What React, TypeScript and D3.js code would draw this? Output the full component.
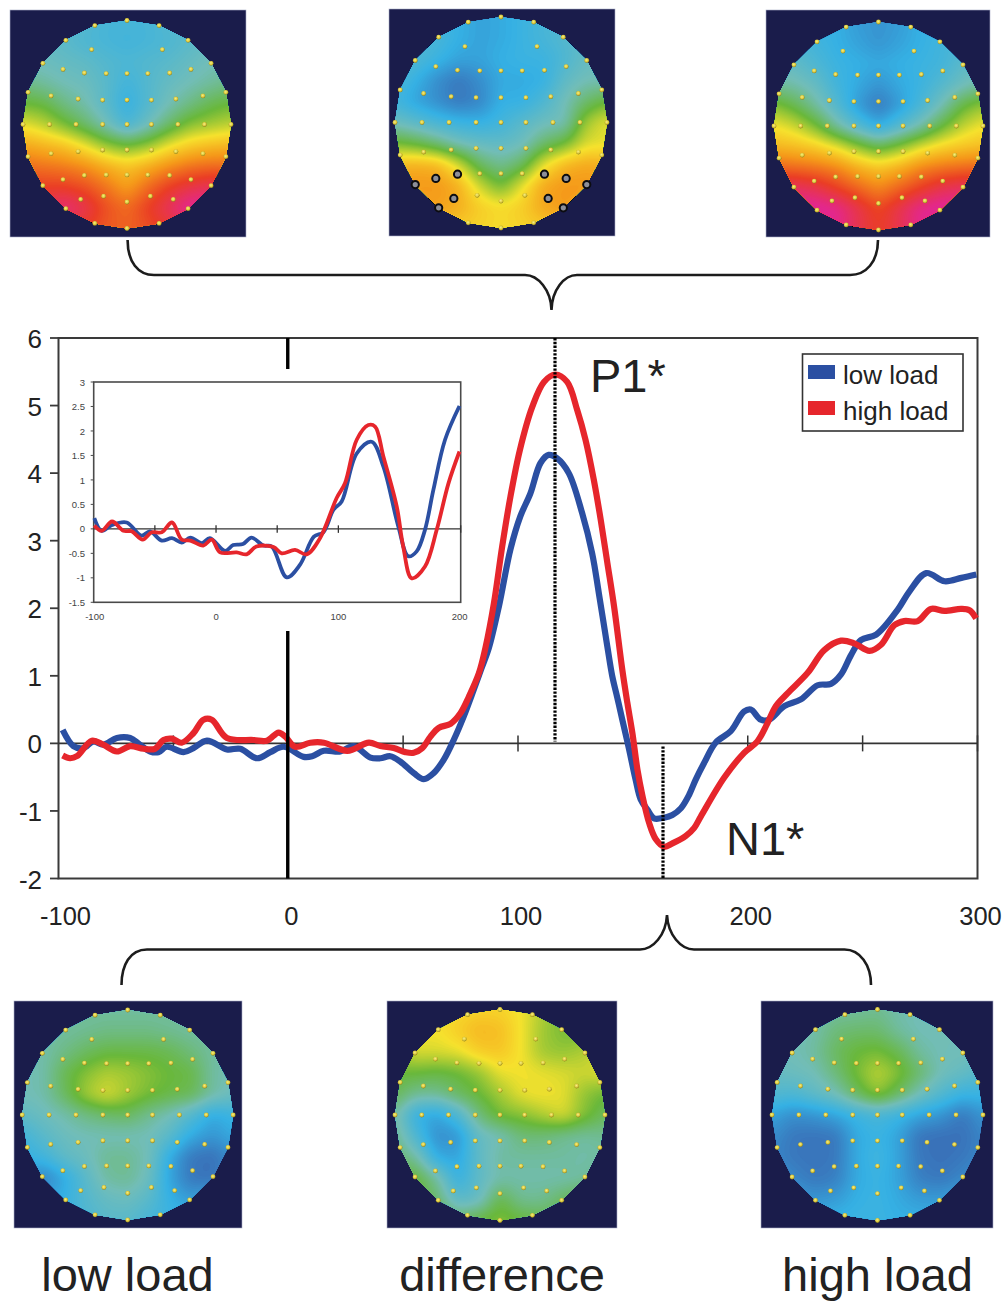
import React from "react";
import * as d3 from "d3";

// ---------- waveform data (ms, µV) ----------
const mainLowMs = [-98.2,-93.5,-89.2,-84.8,-80.5,-74.6,-68.8,-64.5,-60.1,-56.5,-52.9,-45.6,-41.3,-35.4,-26.7,-20.9,-13.6,-7.8,-2,6.7,10.4,15.5,22.7,28.5,35.8,40.1,44.4,48.8,54.6,59,63.3,67.7,72,76.4,80.7,84,87.3,91.7,96.7,101,105.4,109.8,113.4,117,122.1,127.9,132.3,135.2,138.9,141,143.2,145.4,148.3,151.2,153.4,156.3,159.2,163.6,167.2,170.9,174.5,177.3,181,186,192.6,198.4,201.3,205.7,209.3,215.9,223.1,230.4,236.2,240.6,245,249.3,255.9,265.3,270.4,277.7,285.7,293,299.5];
const mainLowUv = [0.2,-0.04,-0.07,0.03,-0.02,0.08,0.08,-0.02,-0.12,-0.13,-0.05,-0.13,-0.07,0.04,-0.09,-0.08,-0.22,-0.13,-0.05,-0.2,-0.19,-0.11,-0.12,-0.04,-0.21,-0.22,-0.19,-0.27,-0.44,-0.53,-0.44,-0.24,0.05,0.4,0.79,1.1,1.41,2.03,2.87,3.36,3.7,4.15,4.27,4.22,4.0,3.41,2.81,2.22,1.43,1.0,0.68,0.35,-0.08,-0.54,-0.83,-0.98,-1.11,-1.1,-1.06,-0.96,-0.76,-0.54,-0.29,0.01,0.18,0.47,0.5,0.35,0.35,0.55,0.65,0.86,0.88,1.02,1.31,1.53,1.61,1.98,2.25,2.52,2.4,2.45,2.5];
const mainHighMs = [-98.2,-95,-92,-85.5,-80.5,-74.6,-68.8,-63,-58,-54.3,-50.7,-46.4,-41.3,-36.9,-33.3,-26.7,-15.1,-9.3,-4.2,-1.3,3,9.6,15.5,25.7,35.1,40.1,45.9,51,54.6,58.3,61.9,65.5,70.6,75,78.6,83,85.8,89.5,93.1,96.7,100.8,106.2,111.3,116.3,121.4,125.8,129.4,133,136,138.9,141.8,145.4,147.6,149.8,152,154.2,157.1,160,163.6,167.2,173,176.7,179.6,189.7,198.4,204.2,208.6,212.2,217.3,226,233.3,240.6,246.4,253,258,263.8,268.1,274,279.7,285.6,292.9,296.5,299.4];
const mainHighUv = [-0.18,-0.22,-0.19,0.04,-0.02,-0.12,-0.04,-0.08,-0.08,0.05,0.07,0.01,0.15,0.35,0.35,0.08,0.05,0.04,0.16,0.1,-0.05,0.01,0.01,-0.11,0.01,-0.04,-0.07,-0.13,-0.14,-0.07,0.1,0.23,0.29,0.45,0.69,1.04,1.41,2.07,2.91,3.65,4.34,4.98,5.35,5.46,5.35,4.93,4.49,3.9,3.31,2.67,2.03,1.09,0.6,0.15,-0.39,-0.78,-1.18,-1.42,-1.53,-1.48,-1.37,-1.25,-1.08,-0.51,-0.14,0.03,0.3,0.55,0.74,1.04,1.38,1.52,1.48,1.37,1.46,1.75,1.81,1.81,1.99,1.96,1.99,1.97,1.85];

const insetLowMs = [-99.5,-93.5,-85,-73,-61,-54,-44.4,-36,-28,-21,-11.7,-5,7.4,14,22,29,38.7,45.5,57.8,68.7,80,87.7,96,102.7,115,127.2,136.8,149,157.2,164,170.8,177.7,187.2,199];
const insetLowUv = [0.22,-0.04,0.08,0.13,-0.14,-0.05,-0.24,-0.19,-0.28,-0.18,-0.29,-0.19,-0.45,-0.33,-0.31,-0.18,-0.34,-0.36,-0.99,-0.73,-0.16,-0.07,0.39,0.56,1.54,1.78,1.27,0.05,-0.56,-0.46,-0.02,0.8,1.82,2.51];
const insetHighMs = [-99.5,-93.5,-85,-75.7,-69,-60,-52.6,-44.4,-36,-28,-21,-10.4,-3.5,3.3,16.9,25,33,47,53.7,64.6,74,85,98.6,105.4,115,124.5,130,136.8,147.7,153,160,170.8,180.4,190,199];
const insetHighUv = [0.07,-0.04,0.15,-0.04,-0.05,-0.22,-0.07,-0.07,0.13,-0.22,-0.24,-0.34,-0.22,-0.48,-0.48,-0.52,-0.36,-0.37,-0.5,-0.43,-0.52,-0.19,0.63,0.93,1.82,2.12,2.09,1.48,0.46,-0.36,-1.01,-0.77,-0.02,0.93,1.58];

// ---------- axes ----------
const mainYTicks = [-2,-1,0,1,2,3,4,5,6];
const mainXLabels = [-100,0,100,200,300];
const mainXMinor = [-50,0,50,100,150,200,250,300];
const insetYTicks = [-1.5,-1,-0.5,0,0.5,1,1.5,2,2.5,3];
const insetXLabels = [-100,0,100,200];
const insetXMinor = [-50,0,50,100,150,200];
const seriesNames = ["low load","high load"];
const captions = ["low load","difference","high load"];

// ---------- scalp maps: potential class on an 11 x 11 raster, top row first ----------
const topoLowP1 = [
[1.8,1.8,1.7,1.5,1.3,1.3,1.3,1.5,1.7,1.8,1.8],
[1.8,1.8,1.6,1.4,1.3,1.2,1.3,1.4,1.6,1.8,1.8],
[1.9,1.9,1.8,1.7,1.5,1.4,1.5,1.6,1.8,2,2],
[2.4,2.2,2,1.9,1.6,1.2,1.5,1.8,2,2.2,2.4],
[3,2.9,2.4,2.1,1.6,1,1.5,2,2.4,2.8,3],
[3.9,3.6,3.1,2.6,2,1.3,1.9,2.6,3.2,3.4,3.6],
[4.8,4.6,4.4,3.9,3.3,3,3.3,3.9,4.3,4.5,4.6],
[5.5,5.4,5.3,5.1,4.7,4.4,4.7,5.1,5.4,5.5,5.5],
[6,6,6,5.8,5.4,4.9,5.5,6,6.3,6.5,6.5],
[6.4,6.5,6.8,6.4,5.8,5.5,6,6.5,7.1,7.2,7],
[6.1,6.1,6.1,6,5.7,5.6,5.8,6.1,6.5,6.5,6.5],
];
const topoDiffP1 = [
[1.4,1.4,1.2,1,0.8,0.9,1.1,1.3,1.5,1.7,1.7],
[1.5,1.5,1.3,1,0.8,0.9,1.1,1.3,1.5,1.7,1.8],
[1.6,1.4,1.1,0.8,0.8,1,1.1,1.1,1.4,1.8,1.9],
[1.4,1,0.5,0.2,0.5,0.9,0.9,1,1.7,2,2],
[1.2,0.8,0.5,0.2,0.4,1,1,1.4,2,2.6,3],
[1.9,1.6,1.3,1.1,1,1.2,1.6,1.9,2,3.4,3.9],
[3.1,2.9,2.5,2,1.8,1.7,1.9,2.6,3,3.8,3.9],
[4.6,4.7,4.6,3.8,2.7,2.3,2.7,3.9,4.6,4.8,4.7],
[5,5,5,4.7,3.7,3,3.9,4.8,5,5,4.9],
[4.7,4.8,4.9,4.7,4.3,4.1,4.3,4.8,5,4.7,4.6],
[4.2,4.2,4.3,4.3,4.2,4.1,4.2,4.3,4.4,4.2,4.2],
];
const topoHighP1 = [
[1.3,1.2,1.1,1,0.7,0.6,0.7,1,1.1,1.2,1.3],
[1.6,1.4,1.2,1,0.8,0.6,0.8,1,1.2,1.4,1.6],
[1.9,1.7,1.4,1.1,1,0.9,1,1.1,1.2,1.6,1.9],
[2.2,2.1,1.8,1.2,0.9,0.6,0.9,1.1,1.5,1.9,2.2],
[3.2,2.8,2.2,1.5,0.7,0.2,0.7,1.3,2,2.9,3.3],
[4,3.7,3.1,2.2,1.5,0.9,1.5,2.1,2.9,3.6,4],
[4.6,4.5,4.3,3.9,3.3,2.8,3.2,3.8,4.2,4.4,4.5],
[5.6,5.5,5.4,5.2,4.7,4.4,4.7,5.2,5.4,5.5,5.6],
[6.6,6.6,6.4,6,5.6,5.2,5.6,6,6.4,6.6,6.6],
[7.2,7.2,7.2,7,6.4,5.9,6.4,7,7.2,7.2,7.2],
[7.2,7.2,7.2,7,6.4,6,6.4,7,7.2,7.2,7.2],
];
const topoLowN1 = [
[2.2,2.2,2.2,2.2,2.2,2.2,2.2,2.2,2.2,2.2,2.2],
[2.2,2.2,2.2,2.3,2.4,2.4,2.4,2.3,2.2,2.2,2.2],
[2.1,2.1,2.4,2.7,2.9,2.9,2.9,2.8,2.5,2.2,2.1],
[2,2.1,2.8,3.2,3.5,3.4,3.2,3,2.9,2.2,2],
[2,2.1,2.7,3.4,3.8,3.4,3.1,2.9,2.8,2.2,1.9],
[1.7,1.9,2.1,2.4,2.6,2.7,2.3,2,1.5,0.9,1.1],
[1.2,1.6,1.9,2,2,2,2,1.6,0.9,0.6,0.9],
[1,1.2,1.7,1.9,2.3,2.3,2,0.9,0.2,0.1,0.5],
[0.8,0.3,0.9,1.6,2.2,2.3,1.9,0.8,0.2,0.1,0.7],
[1,0.9,1,1.5,1.8,1.9,1.6,1,0.7,1,1],
[1.2,1.2,1.2,1.4,1.6,1.6,1.3,1.1,1.2,1.2,1.2],
];
const topoDiffN1 = [
[4,4,4,4.1,4.2,4.2,4,3.5,3.2,3,3],
[4,4,4,4.3,4.6,4.5,4,3.4,3.1,3,3.2],
[3.5,3.8,3.8,3.9,4.3,4.4,4,3.4,3.3,3.5,3.8],
[3,3,2.9,3,3.3,3.9,4,3.9,3.8,3.7,3.9],
[2.8,2.3,2.3,2.7,3,3.4,3.9,4,3.9,3.3,3],
[2.2,1,0.8,1.4,2.5,3.1,3.2,3.5,3.8,3.2,2.7],
[2.4,1.4,0.5,0.6,1.8,2,2.5,2.5,2.3,2.2,2.3],
[2.6,2.2,0.9,0.8,1.7,2.2,2.2,2.2,2.2,2.1,2.2],
[3,3,2.2,1,1.7,2.1,2.1,2.1,2.1,2.2,2.6],
[3.2,3.1,2.6,1.6,1.8,2.9,2.3,2.3,2.7,3,3.3],
[3.3,3.3,3,2.7,3,3.2,3,2.9,3,3.3,3.3],
];
const topoHighN1 = [
[2,2,2.1,2.2,2.2,2.3,2.1,2,2,2,2],
[2,2,2.1,2.5,2.6,2.6,2.2,2,2,2,2],
[2,2,2.2,2.7,3,3.1,2.8,2.2,2,2,2],
[1.8,1.9,2,2.5,3.1,3.6,3.2,2.6,2,1.8,1.5],
[1.5,1.4,1.7,2,2.7,3.3,2.7,2,1.5,1.1,1.1],
[0.8,0.5,0.6,0.8,1.1,1.3,1.1,0.8,0.6,0.2,0.6],
[0.5,0.2,0.15,0.2,0.9,1.1,0.8,0.15,0.1,0.1,0.4],
[0.4,0.2,0.15,0.2,0.9,1.2,0.8,0.2,0.1,0.2,0.4],
[0.8,0.4,0.2,0.3,0.9,1.1,0.8,0.3,0.2,0.4,0.7],
[1,0.8,0.6,0.7,1,1.1,0.9,0.7,0.7,0.9,1],
[1,1,1,1.1,1.1,1.1,1,1,1,1,1],
];
const potentialColors = ["#3a69b3","#35b1e4","#72bdb8","#69b83a","#f6e22d","#f5981a","#ea3e25","#e3278d"];

// electrode layout, unit-disc coordinates
const rimAngles = d3.range(0, 360, 18);
const electrodeRows: [number, number][][] = [
  [[-0.34,-0.72],[0.34,-0.72]],
  [[-0.615,-0.53],[-0.41,-0.495],[-0.2,-0.49],[0,-0.49],[0.2,-0.49],[0.41,-0.495],[0.615,-0.53]],
  [[-0.73,-0.275],[-0.47,-0.245],[-0.235,-0.235],[0,-0.235],[0.235,-0.235],[0.47,-0.245],[0.73,-0.275]],
  [[-0.745,0],[-0.49,0],[-0.235,0],[0,0],[0.235,0],[0.49,0],[0.745,0]],
  [[-0.73,0.28],[-0.47,0.26],[-0.235,0.245],[0,0.245],[0.235,0.245],[0.47,0.26],[0.73,0.28]],
  [[-0.615,0.53],[-0.41,0.49],[-0.2,0.485],[0,0.485],[0.2,0.485],[0.41,0.49],[0.615,0.53]],
  [[-0.445,0.72],[-0.225,0.69],[0,0.745],[0.225,0.69],[0.445,0.72]],
];
const roiElectrodes: [number, number][] = [
  [-0.809,0.588],[-0.615,0.53],[-0.41,0.49],[-0.445,0.72],[-0.588,0.809],
  [0.809,0.588],[0.615,0.53],[0.41,0.49],[0.445,0.72],[0.588,0.809],
];

type MapBox = { x0:number; y0:number; x1:number; y1:number; cx:number; cy:number; rx:number; ry:number };
const box = (x0:number,y0:number,x1:number,y1:number,cx:number,cy:number,rx:number,ry:number):MapBox => ({x0,y0,x1,y1,cx,cy,rx,ry});
const mapPanels = [
  { id:"a", grid:topoLowP1,  b:box(10,10,246,237,127,124.5,104,104), roi:false },
  { id:"b", grid:topoDiffP1, b:box(389,9,615,236,501,122.5,106,105.5), roi:true },
  { id:"c", grid:topoHighP1, b:box(766,10,990,237,878.5,126,104.5,104), roi:false },
  { id:"d", grid:topoLowN1,  b:box(14,1001,242,1228,127.7,1115,105.5,105), roi:false },
  { id:"e", grid:topoDiffN1, b:box(387,1001,617,1228,500,1115,105,105.5), roi:false },
  { id:"f", grid:topoHighN1, b:box(761,1001,993,1228,877.5,1115,105.5,105.5), roi:false },
];

const potentialScale = d3.scaleLinear<string>().domain(d3.range(potentialColors.length)).range(potentialColors).interpolate(d3.interpolateRgb).clamp(true);

function upsample(grid:number[][], k:number) {
  const rows = grid.length, cols = grid[0].length;
  const w = (cols-1)*k+1, h = (rows-1)*k+1;
  const out = new Float64Array(w*h);
  for (let j=0;j<h;j++) for (let i=0;i<w;i++) {
    const gx=i/k, gy=j/k, ix=Math.min(Math.floor(gx),cols-2), iy=Math.min(Math.floor(gy),rows-2);
    const fx=gx-ix, fy=gy-iy;
    out[j*w+i] = grid[iy][ix]*(1-fx)*(1-fy)+grid[iy][ix+1]*fx*(1-fy)+grid[iy+1][ix]*(1-fx)*fy+grid[iy+1][ix+1]*fx*fy;
  }
  d3.blur2({data:out,width:w,height:h},1.5);
  return {data:out,w,h};
}

function TopoMap({id,grid,b,roi}:{id:string;grid:number[][];b:MapBox;roi:boolean}) {
  const {data,w,h} = upsample(grid,8);
  const step = 0.05;
  const levels = d3.range(-0.1,7.3,step);
  const contours = d3.contours().size([w,h]).thresholds(levels)(Array.from(data));
  const sx = d3.scaleLinear().domain([0.5,w-0.5]).range([b.cx-b.rx,b.cx+b.rx]);
  const sy = d3.scaleLinear().domain([0.5,h-0.5]).range([b.cy-b.ry,b.cy+b.ry]);
  const path = d3.geoPath(d3.geoTransform({point(x,y){ this.stream.point(sx(x),sy(y)); }}));
  const rim = rimAngles.map(a=>{const r=a*Math.PI/180;return [b.cx+b.rx*Math.sin(r),b.cy-b.ry*Math.cos(r)] as [number,number];});
  const inner = electrodeRows.flat().map(([u,v])=>[b.cx+u*b.rx,b.cy+v*b.ry] as [number,number]);
  return <g>
    <rect x={b.x0} y={b.y0} width={b.x1-b.x0} height={b.y1-b.y0} fill="#1a1c4b" stroke="#aab0c8" strokeWidth={0.6}/>
    <clipPath id={`clip-${id}`}><polygon points={rim.map(p=>p.join(",")).join(" ")}/></clipPath>
    <g clipPath={`url(#clip-${id})`}>
      <rect x={b.x0} y={b.y0} width={b.x1-b.x0} height={b.y1-b.y0} fill={potentialScale(0)}/>
      {contours.map((c,i)=> c.coordinates.length ? <path key={i} d={path(c as any) ?? ""} fill={potentialScale(c.value+step/2)}/> : null)}
    </g>
    {[...rim,...inner].map(([x,y],i)=><circle key={i} cx={x} cy={y} r={2.4} fill="url(#pin)"/>)}
    {roi && roiElectrodes.map(([u,v],i)=><circle key={i} cx={b.cx+u*b.rx} cy={b.cy+v*b.ry} r={3.6} fill="#8d8f99" stroke="#0c0c10" strokeWidth={2}/>)}
  </g>;
}

// ---------- chart geometry ----------
const FONT = "'Liberation Sans', Arial, sans-serif";
const BLUE = "#2b4fa2", RED = "#e6262c", INK = "#222";

export default function App() {
  const x = d3.scaleLinear().domain([-100,300]).range([58.5,977.5]);
  const y = d3.scaleLinear().domain([-2,6]).range([878.5,338]);
  const ix = d3.scaleLinear().domain([-100,200]).range([93.7,460.7]);
  const iy = d3.scaleLinear().domain([-1.5,3]).range([602.3,382]);
  const pair = (ms:number[],uv:number[]) => ms.map((m,i)=>[m,uv[i]] as [number,number]);
  const mainLine = d3.line<[number,number]>().x(d=>x(d[0])).y(d=>y(d[1])).curve(d3.curveCatmullRom.alpha(0.5));
  const insetLine = d3.line<[number,number]>().x(d=>ix(d[0])).y(d=>iy(d[1])).curve(d3.curveCatmullRom.alpha(0.5));
  const braceColor = "#1c1c1c";
  return (
    <svg width={1003} height={1303} viewBox="0 0 1003 1303" style={{position:"absolute",left:0,top:0,background:"#fff"}} fontFamily={FONT}>
      <defs>
        <radialGradient id="pin" cx="45%" cy="40%" r="60%">
          <stop offset="0%" stopColor="#f6ee8a"/><stop offset="60%" stopColor="#dcc93a"/><stop offset="100%" stopColor="#8c7c20"/>
        </radialGradient>
      </defs>
      {mapPanels.map(m=><TopoMap key={m.id} {...m}/>)}

      {/* braces */}
      <path d="M127.6 240 C127.6 262,138 275,154 275 L525 275 C538 275,551 290,551.5 310 C552 290,564 275,577 275 L850 275 C866 275,878 262,878 240" fill="none" stroke={braceColor} strokeWidth={2.6}/>
      <path d="M121.5 985 C121.5 965,130 949.5,147 949.5 L640 949.5 C653 949.5,666 935,667 915 C668 935,681 949.5,694 949.5 L844.5 949.5 C860 949.5,871 965,871 985" fill="none" stroke={braceColor} strokeWidth={2.6}/>

      {/* main plot frame */}
      <rect x={x(-100)} y={y(6)} width={x(300)-x(-100)} height={y(-2)-y(6)} fill="#fff" stroke="#3a3a3a" strokeWidth={2}/>
      {mainYTicks.map(t=><g key={t}>
        <line x1={50} x2={x(-100)} y1={y(t)} y2={y(t)} stroke="#3a3a3a" strokeWidth={1.8}/>
        <text x={42} y={y(t)+10} textAnchor="end" fontSize={26} fill={INK}>{t}</text>
      </g>)}
      {mainXLabels.map(t=><text key={t} x={x(t)+(t===-100?7:3)} y={925} textAnchor="middle" fontSize={25.5} fill={INK}>{t}</text>)}
      <line x1={x(-100)} x2={x(300)} y1={y(0)} y2={y(0)} stroke="#333" strokeWidth={1.8}/>
      {mainXMinor.map(t=><line key={t} x1={x(t)} x2={x(t)} y1={y(0)-8} y2={y(0)+8} stroke="#333" strokeWidth={1.5}/>)}

      <path d={mainLine(pair(mainLowMs,mainLowUv))!} fill="none" stroke={BLUE} strokeWidth={6.2} strokeLinejoin="round"/>
      <path d={mainLine(pair(mainHighMs,mainHighUv))!} fill="none" stroke={RED} strokeWidth={6.2} strokeLinejoin="round"/>

      {/* stimulus-onset marker and peak markers */}
      <line x1={x(0)-0.5} x2={x(0)-0.5} y1={y(6)} y2={y(-2)} stroke="#000" strokeWidth={3.4}/>
      <line x1={555} x2={555} y1={y(6)} y2={y(0)-2} stroke="#000" strokeWidth={3.2} strokeDasharray="2.4 1.4"/>
      <line x1={663} x2={663} y1={y(0)+3} y2={y(-2)} stroke="#000" strokeWidth={3.2} strokeDasharray="2.4 1.4"/>

      {/* inset */}
      <rect x={62} y={369} width={412} height={262} fill="#fff"/>
      <rect x={ix(-100)} y={iy(3)} width={ix(200)-ix(-100)} height={iy(-1.5)-iy(3)} fill="#fff" stroke="#4a4a4a" strokeWidth={1.6}/>
      {insetYTicks.map(t=><g key={t}>
        <line x1={ix(-100)-3} x2={ix(-100)} y1={iy(t)} y2={iy(t)} stroke="#4a4a4a" strokeWidth={1}/>
        <text x={85} y={iy(t)+3.6} textAnchor="end" fontSize={9.5} fill="#444">{t}</text>
      </g>)}
      {insetXLabels.map(t=><text key={t} x={ix(t)+(t===200?-1:t===-100?1:0)} y={620} textAnchor="middle" fontSize={9.5} fill="#444">{t}</text>)}
      <line x1={ix(-100)} x2={ix(200)} y1={iy(0)} y2={iy(0)} stroke="#333" strokeWidth={1.3}/>
      {insetXMinor.map(t=><line key={t} x1={ix(t)} x2={ix(t)} y1={iy(0)-3.5} y2={iy(0)+4} stroke="#333" strokeWidth={1.3}/>)}
      <path d={insetLine(pair(insetLowMs,insetLowUv))!} fill="none" stroke={BLUE} strokeWidth={3.8} strokeLinejoin="round"/>
      <path d={insetLine(pair(insetHighMs,insetHighUv))!} fill="none" stroke={RED} strokeWidth={3.8} strokeLinejoin="round"/>

      {/* legend */}
      <rect x={802.5} y={354} width={160.5} height={77} fill="#fff" stroke="#333" strokeWidth={1.6}/>
      {seriesNames.map((n,i)=><g key={n}>
        <rect x={808} y={365+i*36} width={27} height={14} fill={i?RED:BLUE}/>
        <text x={843} y={384+i*35.5} fontSize={26} fill={INK}>{n}</text>
      </g>)}

      {/* annotations and captions */}
      <text x={590} y={392} fontSize={47} fill={INK}>P1*</text>
      <text x={726} y={855} fontSize={47} fill={INK}>N1*</text>
      {captions.map((c,i)=><text key={c} x={[127.5,502,877.5][i]} y={1291} textAnchor="middle" fontSize={47} fill={INK}>{c}</text>)}
    </svg>
  );
}
